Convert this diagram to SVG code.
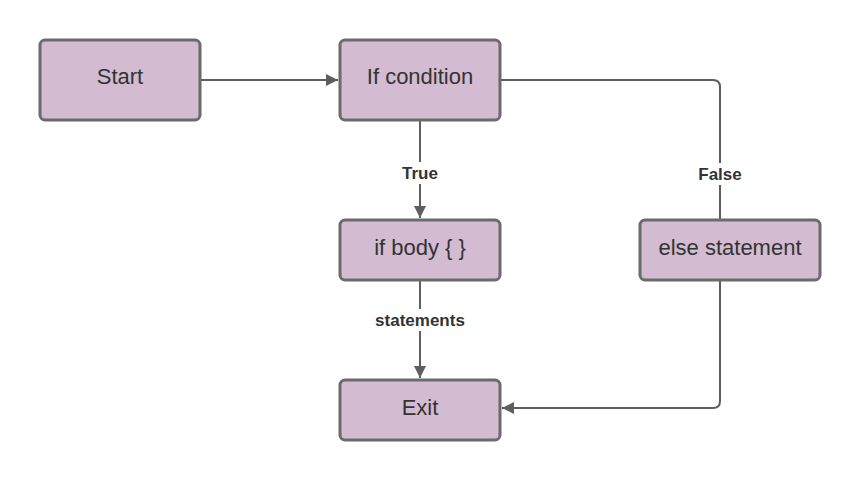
<svg xmlns="http://www.w3.org/2000/svg" width="860" height="480" viewBox="0 0 860 480">
<style>
.node rect{fill:#d3bbd1;stroke:#6b6b6b;stroke-width:3}
.node text{font-family:"Liberation Sans",Arial,sans-serif;font-size:22px;fill:#333;text-anchor:middle;dominant-baseline:central}
.edge{fill:none;stroke:#5e5e5e;stroke-width:2}
.lbl{font-family:"Liberation Sans",Arial,sans-serif;font-size:17px;font-weight:bold;fill:#333;text-anchor:middle;dominant-baseline:central}
.lblbg{fill:#fff}
</style>
<defs>
<marker id="arr" markerWidth="14" markerHeight="14" refX="12" refY="6" orient="auto" markerUnits="userSpaceOnUse">
<path d="M0,0 L12,6 L0,12 Z" fill="#5e5e5e"/>
</marker>
</defs>
<rect width="860" height="480" fill="#fff"/>
<g id="connectors">
<path class="edge" d="M201,80 L338,80" marker-end="url(#arr)"/>
<path class="edge" d="M420,121 L420,218" marker-end="url(#arr)"/>
<path class="edge" d="M420,281 L420,378" marker-end="url(#arr)"/>
<path class="edge" d="M501,80 L713,80 Q720,80 720,87 L720,219"/>
<path class="edge" d="M720,281 L720,401 Q720,408 713,408 L502,408" marker-end="url(#arr)"/>
<rect class="lblbg" x="396" y="162" width="48" height="22"/>
<text class="lbl" x="420" y="173">True</text>
<rect class="lblbg" x="694" y="163" width="52" height="22"/>
<text class="lbl" x="720" y="174">False</text>
<rect class="lblbg" x="370" y="309" width="100" height="22"/>
<text class="lbl" x="420" y="320">statements</text>
</g>
<g id="start" class="node"><rect x="40" y="40" width="160" height="80" rx="5"/><text x="120" y="76">Start</text></g>
<g id="ifcond" class="node"><rect x="340" y="40" width="160" height="80" rx="5"/><text x="420" y="76">If condition</text></g>
<g id="ifbody" class="node"><rect x="340" y="220" width="160" height="60" rx="5"/><text x="420" y="247">if body { }</text></g>
<g id="else" class="node"><rect x="640" y="220" width="180" height="60" rx="5"/><text x="730" y="247">else statement</text></g>
<g id="exit" class="node"><rect x="340" y="380" width="160" height="60" rx="5"/><text x="420" y="407">Exit</text></g>
</svg>
